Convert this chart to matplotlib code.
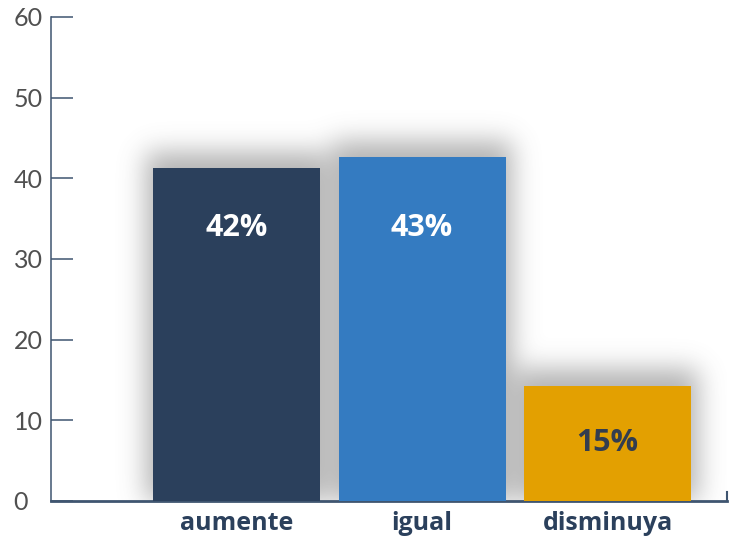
import numpy as np
import matplotlib.pyplot as plt

categories = ['aumente', 'igual', 'disminuya']
heights = [41.3, 42.7, 14.3]
labels = ['42%', '43%', '15%']
bar_colors = ['#2b405c', '#347bc1', '#e3a001']
label_colors = ['white', 'white', '#333d4f']
yticks = [0, 10, 20, 30, 40, 50, 60]

axis_color = '#3f5570'

fig = plt.figure(figsize=(7.36, 5.41), dpi=100)
ax = fig.add_axes([51 / 736, 1 - 501 / 541, (727 - 51) / 736, (501 - 17) / 541])

x = np.arange(len(categories))
width = 0.9
xlim = (-1, 2.644)
ylim = (0, 60)

# soft blurred shadow behind the bars, a little above and around each one
nx, ny = 676, 484
gx = np.linspace(xlim[0], xlim[1], nx)
gy = np.linspace(ylim[1], ylim[0], ny)
px_x = (xlim[1] - xlim[0]) / nx
px_y = (ylim[1] - ylim[0]) / ny
mask = np.zeros((ny, nx))
for xi, h in zip(x, heights):
    inx = (gx > xi - width / 2 - 7 * px_x) & (gx < xi + width / 2 + 7 * px_x)
    iny = gy < h + 16 * px_y
    mask[np.ix_(iny, inx)] = 1.0
sigma = 13
k = np.arange(-3 * sigma, 3 * sigma + 1)
kern = np.exp(-k ** 2 / (2 * sigma ** 2))
kern /= kern.sum()
blur = np.apply_along_axis(lambda r: np.convolve(r, kern, mode='same'), 1, mask)
blur = np.apply_along_axis(lambda c: np.convolve(c, kern, mode='same'), 0, blur)
rgba = np.zeros((ny, nx, 4))
rgba[..., :3] = 0.4
rgba[..., 3] = 0.5 * blur
ax.imshow(rgba, extent=(xlim[0], xlim[1], ylim[0], ylim[1]), aspect='auto',
          interpolation='bilinear', zorder=1)

ax.bar(x, heights, width=width, color=bar_colors, zorder=3)

for xi, h, lab, c in zip(x, heights, labels, label_colors):
    ypos = 33.8 if h > 30 else h / 2
    ax.text(xi, ypos, lab, ha='center', va='center', color=c,
            fontsize=22, fontweight='bold', family='Open Sans', zorder=4)

ax.set_xlim(*xlim)
ax.set_ylim(*ylim)
ax.set_yticks(yticks)
ax.set_xticks(x)
ax.set_xticklabels(categories, fontsize=18, fontweight='bold',
                   family='Open Sans', color='#2b405c')
ax.tick_params(axis='x', length=0, pad=7)
ax.tick_params(axis='y', direction='in', length=16, width=1.1,
               color=axis_color, labelsize=18, labelcolor='#505050', pad=27)
for t in ax.get_yticklabels():
    t.set_ha('left')
    t.set_family('Lato')

for s in ['top', 'right']:
    ax.spines[s].set_visible(False)
ax.spines['left'].set_color(axis_color)
ax.spines['left'].set_linewidth(1.1)
ax.spines['bottom'].set_color(axis_color)
ax.spines['bottom'].set_linewidth(2)
ax.plot([1, 1], [0, 0.018], transform=ax.transAxes, color=axis_color,
        lw=1.5, clip_on=False)

fig.savefig('out.png', dpi=100)
